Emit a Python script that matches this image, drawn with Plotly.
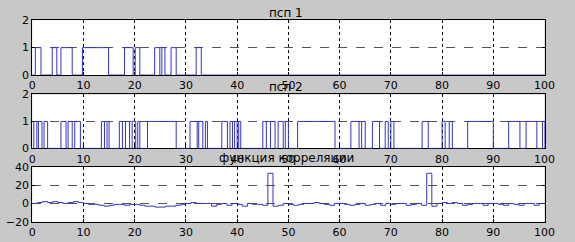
import plotly.graph_objects as go

# ---- data ----
x_ticks = [0, 10, 20, 30, 40, 50, 60, 70, 80, 90, 100]
psp_y_ticks = [0, 1, 2]
corr_y_ticks = [-20, 0, 20, 40]

titles = ["псп 1", "псп 2", "функция корреляции"]

# pseudo-random sequence 1: intervals where the level is 1
psp1_start = [0.6, 3.9, 5.6, 9.8, 18.0, 20.1, 23.9, 25.3, 27.1, 32.0]
psp1_end   = [1.7, 4.8, 7.8, 14.9, 19.7, 21.0, 24.9, 25.9, 28.1, 33.0]

# pseudo-random sequence 2: intervals where the level is 1
psp2_start = [0.3, 1.2, 2.3, 5.6, 7.0, 8.3, 13.5, 14.6, 17.0, 18.2, 19.5, 20.6,
              22.5, 30.8, 32.5, 33.8, 37.0, 38.6, 39.5, 40.3, 45.0, 46.5, 48.0,
              49.4, 51.8, 62.2, 64.3, 66.4, 68.9, 70.0, 76.1, 80.0, 81.4, 85.0,
              93.0, 96.4, 99.6]
psp2_end   = [0.9, 1.9, 3.0, 6.6, 7.8, 9.4, 14.1, 15.0, 17.6, 19.0, 20.2, 21.0,
              28.1, 32.2, 33.3, 34.2, 38.1, 39.1, 40.0, 40.7, 45.7, 47.4, 49.0,
              50.0, 59.1, 63.8, 65.0, 67.8, 69.5, 70.6, 77.3, 80.6, 82.0, 90.0,
              95.2, 98.5, 100.0]

# correlation function sampled at t = 0..100
corr_t = list(range(0, 101))
corr_v = [0, 1, 2, 1, 2, 1, 0, 1, 2, 1,
          0, -1, -1, -2, -3, -2, -1, -1, -2, -1,
          -1, -2, -3, -3, -4, -4, -3, -3, -2, -1,
          0, 1, 0, 0, 0, -3, -1, 0, -2, 0,
          -1, -3, 0, -1, -1, -2, 33, -3, -2, 0,
          -1, -2, -1, 0, 0, 1, 0, -1, -2, 0,
          0, -1, -2, -1, 0, -2, -1, 0, -2, 0,
          -1, 0, 0, -2, -1, 0, -2, 33, -3, 0,
          1, 0, 1, 0, -2, -1, 0, 0, -2, 0,
          0, -1, -2, 0, -1, -2, 0, 0, -2, 0,
          0]


def step_from_intervals(starts, ends, t_end=100):
    xs, ys = [0.0], [0]
    for s, e in zip(starts, ends):
        xs += [s, s, e, e]
        ys += [0, 1, 1, 0]
    xs.append(t_end)
    ys.append(ys[-1])
    return xs, ys


p1x, p1y = step_from_intervals(psp1_start, psp1_end)
p2x, p2y = step_from_intervals(psp2_start, psp2_end)

LINE = dict(color="#3333cc", width=1)
fig = go.Figure()
fig.add_trace(go.Scatter(x=p1x, y=p1y, mode="lines", line=LINE, xaxis="x", yaxis="y"))
fig.add_trace(go.Scatter(x=p2x, y=p2y, mode="lines", line=LINE, xaxis="x2", yaxis="y2"))
fig.add_trace(go.Scatter(x=corr_t, y=corr_v, mode="lines", line=dict(LINE, shape="hv"),
                         xaxis="x3", yaxis="y3"))

W, H = 575, 242
xdom = [29 / W, 555 / W]
ydoms = [[1 - 73 / H, 1 - 15 / H],
         [1 - 150.5 / H, 1 - 93.5 / H],
         [1 - 228 / H, 1 - 170 / H]]
yranges = [[0, 2], [0, 2], [-20, 40]]
yticks = [psp_y_ticks, psp_y_ticks, corr_y_ticks]
FONT = "DejaVu Sans, Verdana, sans-serif"
TF = dict(family=FONT, size=11, color="black")

layout = dict(
    width=W, height=H, margin=dict(l=0, r=0, t=0, b=0),
    paper_bgcolor="#c8c8c8", plot_bgcolor="white", showlegend=False,
)
for i in range(3):
    sx = "" if i == 0 else str(i + 1)
    layout["xaxis" + sx] = dict(
        domain=xdom, range=[0, 100], tickvals=x_ticks, anchor="y" + sx,
        showgrid=True, gridcolor="black", griddash="dot", gridwidth=1.3,
        showline=True, linecolor="black", linewidth=1, mirror="ticks",
        ticks="inside", ticklen=3, tickcolor="black", tickfont=TF,
        zeroline=False, fixedrange=True, layer="below traces",
    )
    layout["yaxis" + sx] = dict(
        domain=ydoms[i], range=yranges[i], tickvals=yticks[i], anchor="x" + sx,
        showgrid=True, gridcolor="#555555", griddash="dash", gridwidth=1,
        showline=True, linecolor="black", linewidth=1, mirror="ticks",
        ticks="inside", ticklen=3, tickcolor="black", tickfont=TF,
        zeroline=False, fixedrange=True, layer="below traces",
    )
fig.update_layout(**layout)

title_y = [7, 86, 161]
for t, yy in zip(titles, title_y):
    fig.add_annotation(text=t, x=290 / W, y=1 - yy / H, xref="paper", yref="paper",
                       showarrow=False, xanchor="center", yanchor="middle",
                       font=dict(family=FONT, size=12, color="black"))

fig.write_html("out.html")
